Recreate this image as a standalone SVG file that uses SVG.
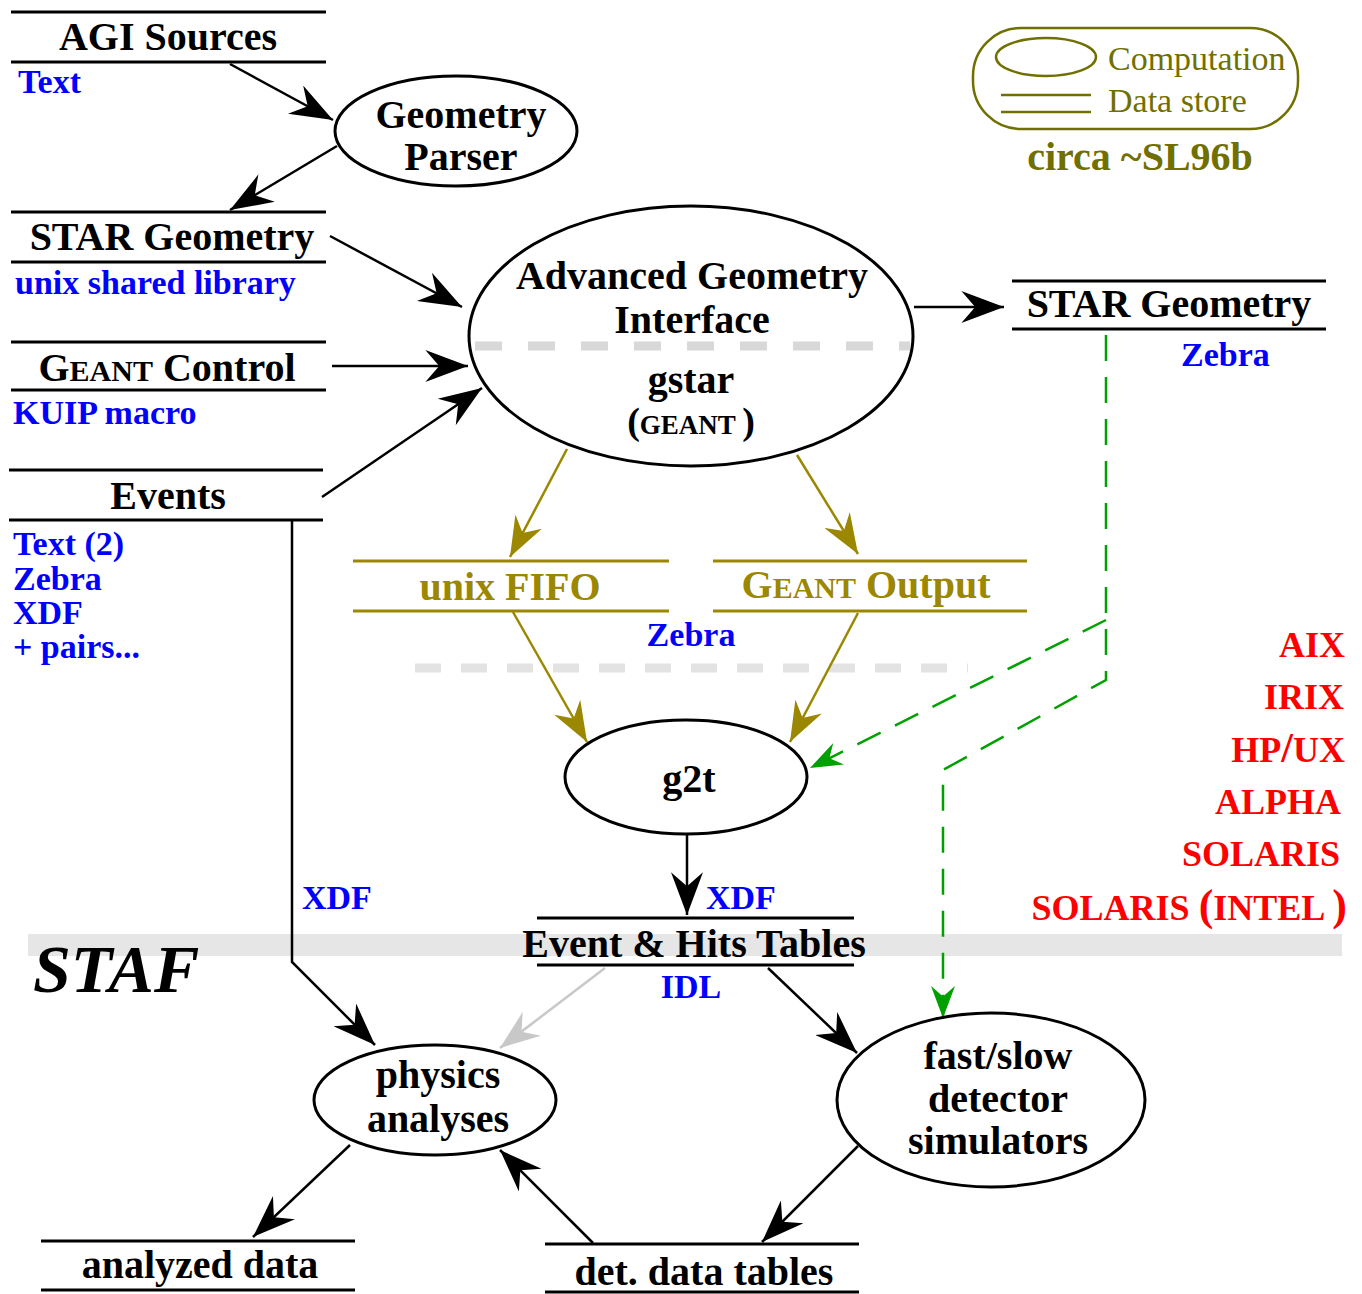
<svg xmlns="http://www.w3.org/2000/svg" width="1362" height="1294" viewBox="0 0 1362 1294">
<style>
text{font-family:"Liberation Serif","Times New Roman",serif;font-weight:bold}
.t{font-size:40px;fill:#000;text-anchor:middle}
.b{font-size:34px;fill:#0000ff}
.r{font-size:36px;fill:#ff0000;text-anchor:end}
.o{font-size:40px;fill:#9b8700;text-anchor:middle}
.ds{stroke:#000;stroke-width:3;fill:none}
.dso{stroke:#9b8700;stroke-width:3;fill:none}
.el{fill:#fff;stroke:#000;stroke-width:3}
.c{stroke:#000;stroke-width:2.5;fill:none}
.co{stroke:#9b8700;stroke-width:2.5;fill:none}
.cg{stroke:#00a000;stroke-width:2.5;fill:none;stroke-dasharray:26 16}
.cl{stroke:#c8c8c8;stroke-width:2.5;fill:none}
.leg{fill:none;stroke:#707000;stroke-width:2.5}
</style>
<defs>
<marker id="ab" viewBox="0 0 40 30" refX="40" refY="15" markerWidth="44" markerHeight="32" markerUnits="userSpaceOnUse" orient="auto"><path d="M0,0 L40,15 L0,30 L13,15 Z" fill="#000"/></marker>
<marker id="ao" viewBox="0 0 40 30" refX="40" refY="15" markerWidth="40" markerHeight="30" markerUnits="userSpaceOnUse" orient="auto"><path d="M0,0 L40,15 L0,30 L13,15 Z" fill="#9b8700"/></marker>
<marker id="ag" viewBox="0 0 40 30" refX="40" refY="15" markerWidth="38" markerHeight="24" markerUnits="userSpaceOnUse" orient="auto"><path d="M0,0 L40,15 L0,30 L13,15 Z" fill="#00a000"/></marker>
<marker id="al" viewBox="0 0 40 30" refX="40" refY="15" markerWidth="40" markerHeight="30" markerUnits="userSpaceOnUse" orient="auto"><path d="M0,0 L40,15 L0,30 L13,15 Z" fill="#c8c8c8"/></marker>
</defs>
<rect width="1362" height="1294" fill="#fff"/>
<rect x="28" y="934" width="1314" height="22" fill="#e6e6e6"/>
<text x="33" y="992" style="font-size:68px;font-style:italic">STAF</text>
<line x1="415" y1="668" x2="968" y2="668" stroke="#e3e3e3" stroke-width="9" stroke-dasharray="26 20"/>

<g id="connectors">
<path class="c" d="M230,64 L333,120" marker-end="url(#ab)"/>
<path class="c" d="M337,146 L230,210" marker-end="url(#ab)"/>
<path class="c" d="M330,236 L462,307" marker-end="url(#ab)"/>
<path class="c" d="M332,366 L468,366" marker-end="url(#ab)"/>
<path class="c" d="M322,497 L482,388" marker-end="url(#ab)"/>
<path class="c" d="M914,307 L1004,307" marker-end="url(#ab)"/>
<path class="co" d="M567,449 L510,557" marker-end="url(#ao)"/>
<path class="co" d="M797,455 L858,554" marker-end="url(#ao)"/>
<path class="co" d="M513,612 L587,742" marker-end="url(#ao)"/>
<path class="co" d="M858,613 L790,742" marker-end="url(#ao)"/>
<path class="c" d="M687,835 L687,915" marker-end="url(#ab)"/>
<path class="c" d="M292,520 L292,962 L375,1045" marker-end="url(#ab)"/>
<path class="cl" d="M605,968 L500,1048" marker-end="url(#al)"/>
<path class="c" d="M768,968 L857,1053" marker-end="url(#ab)"/>
<path class="c" d="M350,1145 L253,1237" marker-end="url(#ab)"/>
<path class="c" d="M593,1243 L500,1150" marker-end="url(#ab)"/>
<path class="c" d="M858,1146 L762,1242" marker-end="url(#ab)"/>
<path class="cg" d="M1106,335 L1106,680 L943,770 L943,1018" marker-end="url(#ag)"/>
<path class="cg" d="M1106,620 L810,768" marker-end="url(#ag)"/>
</g>

<g id="agi-sources">
<line class="ds" x1="11" y1="12" x2="326" y2="12"/><line class="ds" x1="11" y1="62" x2="326" y2="62"/>
<text class="t" x="168" y="50">AGI Sources</text>
<text class="b" x="18" y="93">Text</text>
</g>
<g id="geometry-parser">
<ellipse class="el" cx="456" cy="131" rx="121" ry="55"/>
<text class="t" x="461" y="128">Geometry</text>
<text class="t" x="461" y="170">Parser</text>
</g>
<g id="star-geometry-lib">
<line class="ds" x1="11" y1="212" x2="326" y2="212"/><line class="ds" x1="11" y1="262" x2="326" y2="262"/>
<text class="t" x="172" y="250">STAR Geometry</text>
<text class="b" x="15" y="294">unix shared library</text>
</g>
<g id="geant-control">
<line class="ds" x1="11" y1="342" x2="326" y2="342"/><line class="ds" x1="11" y1="390" x2="326" y2="390"/>
<text class="t" x="167" y="381">G<tspan style="font-size:30px">EANT</tspan> Control</text>
<text class="b" x="13" y="424">KUIP macro</text>
</g>
<g id="events">
<line class="ds" x1="9" y1="470" x2="323" y2="470"/><line class="ds" x1="9" y1="520" x2="323" y2="520"/>
<text class="t" x="168" y="509">Events</text>
<text class="b" x="13" y="555">Text (2)</text>
<text class="b" x="13" y="590">Zebra</text>
<text class="b" x="13" y="624">XDF</text>
<text class="b" x="13" y="658">+ pairs...</text>
</g>
<g id="agi">
<ellipse class="el" cx="691" cy="336" rx="222" ry="130"/>
<line x1="475" y1="346" x2="910" y2="346" stroke="#d8d8d8" stroke-width="9" stroke-dasharray="27 26"/>
<text class="t" x="692" y="289">Advanced Geometry</text>
<text class="t" x="692" y="333">Interface</text>
<text class="t" x="691" y="393">gstar</text>
<text class="t" x="691" y="434"><tspan style="font-size:38px">(</tspan><tspan style="font-size:27px">GEANT </tspan><tspan style="font-size:38px">)</tspan></text>
</g>
<g id="star-geometry-zebra">
<line class="ds" x1="1012" y1="281" x2="1326" y2="281"/><line class="ds" x1="1012" y1="329" x2="1326" y2="329"/>
<text class="t" x="1169" y="317">STAR Geometry</text>
<text class="b" x="1181" y="366">Zebra</text>
</g>
<g id="legend">
<rect class="leg" x="973" y="28" width="325" height="101" rx="48"/>
<ellipse class="leg" cx="1046" cy="57" rx="50" ry="19"/>
<line class="leg" x1="1001" y1="95" x2="1091" y2="95"/><line class="leg" x1="1001" y1="112" x2="1091" y2="112"/>
<text x="1108" y="70" style="font-size:34px;font-weight:normal;fill:#707000">Computation</text>
<text x="1108" y="112" style="font-size:34px;font-weight:normal;fill:#707000">Data store</text>
<text x="1140" y="170" style="font-size:40px;fill:#707000;text-anchor:middle">circa ~SL96b</text>
</g>
<g id="unix-fifo">
<line class="dso" x1="353" y1="561" x2="669" y2="561"/><line class="dso" x1="353" y1="611" x2="669" y2="611"/>
<text class="o" x="510" y="600">unix FIFO</text>
</g>
<g id="geant-output">
<line class="dso" x1="713" y1="561" x2="1027" y2="561"/><line class="dso" x1="713" y1="611" x2="1027" y2="611"/>
<text class="o" x="866" y="598">G<tspan style="font-size:30px">EANT</tspan> Output</text>
</g>
<text class="b" x="691" y="646" text-anchor="middle">Zebra</text>
<g id="g2t">
<ellipse class="el" cx="686" cy="777" rx="121" ry="57"/>
<text class="t" x="689" y="792">g2t</text>
</g>
<text class="b" x="706" y="909">XDF</text>
<text class="b" x="302" y="909">XDF</text>
<g id="event-hits-tables">
<line class="ds" x1="537" y1="918" x2="854" y2="918"/><line class="ds" x1="537" y1="965" x2="854" y2="965"/>
<text class="t" x="694" y="957">Event &amp; Hits Tables</text>
<text class="b" x="691" y="998" text-anchor="middle">IDL</text>
</g>
<g id="platforms">
<text class="r" x="1345" y="657">AIX</text>
<text class="r" x="1344" y="709">IRIX</text>
<text class="r" x="1345" y="762">HP<tspan style="font-size:42px">/</tspan>UX</text>
<text class="r" x="1341" y="814">ALPHA</text>
<text class="r" x="1340" y="866">SOLARIS</text>
<text class="r" x="1347" y="920">SOLARIS <tspan style="font-size:44px">(</tspan>INTEL <tspan style="font-size:44px">)</tspan></text>
</g>
<g id="physics-analyses">
<ellipse class="el" cx="435" cy="1100" rx="121" ry="55"/>
<text class="t" x="438" y="1088">physics</text>
<text class="t" x="438" y="1132">analyses</text>
</g>
<g id="detector-simulators">
<ellipse class="el" cx="991" cy="1100" rx="154" ry="87"/>
<text class="t" x="998" y="1069">fast/slow</text>
<text class="t" x="998" y="1112">detector</text>
<text class="t" x="998" y="1154">simulators</text>
</g>
<g id="analyzed-data">
<line class="ds" x1="41" y1="1241" x2="355" y2="1241"/><line class="ds" x1="41" y1="1290" x2="355" y2="1290"/>
<text class="t" x="200" y="1278">analyzed data</text>
</g>
<g id="det-data-tables">
<line class="ds" x1="545" y1="1244" x2="859" y2="1244"/><line class="ds" x1="545" y1="1292" x2="859" y2="1292"/>
<text class="t" x="704" y="1285">det. data tables</text>
</g>
</svg>
